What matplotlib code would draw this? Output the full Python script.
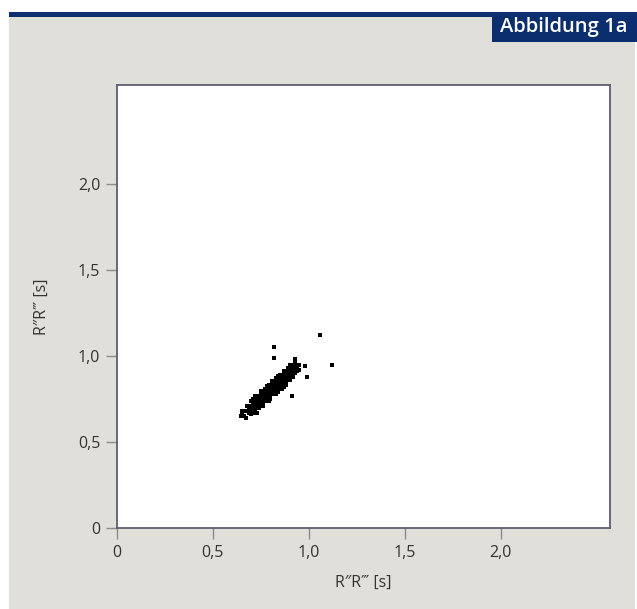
import matplotlib
matplotlib.use('Agg')
import matplotlib.pyplot as plt
from matplotlib.patches import Rectangle

plt.rcParams['font.family'] = ['Open Sans', 'DejaVu Sans']

# RR interval pairs (seconds)
rr_n = [0.66, 0.65, 0.67, 0.68, 0.69, 0.70, 0.70, 0.71, 0.71, 0.72, 0.72, 0.69, 0.70, 0.72,
        0.73, 0.73, 0.74, 0.74, 0.75, 0.75, 0.75, 0.76, 0.76, 0.76, 0.77, 0.77, 0.77,
        0.78, 0.78, 0.78, 0.79, 0.79, 0.79, 0.80, 0.80, 0.80, 0.81, 0.81, 0.81,
        0.82, 0.82, 0.82, 0.83, 0.83, 0.83, 0.84, 0.84, 0.84, 0.85, 0.85, 0.85,
        0.86, 0.86, 0.86, 0.87, 0.87, 0.87, 0.88, 0.88, 0.88, 0.89, 0.89, 0.89,
        0.90, 0.90, 0.90, 0.91, 0.91, 0.92, 0.92, 0.93, 0.93, 0.94, 0.95,
        0.74, 0.78, 0.82, 0.86, 0.79, 0.83, 0.87, 0.91, 0.765, 0.775, 0.785, 0.795,
        0.805, 0.815, 0.825, 0.835, 0.845, 0.855, 0.865, 0.875, 0.885, 0.895, 0.905,
        0.915, 0.925, 0.935, 0.715, 0.725, 0.735, 0.745, 0.755, 0.80, 0.84, 0.88,
        0.72, 0.76, 0.90, 0.93, 0.68, 0.71, 0.94, 0.92, 0.77, 0.81, 0.85, 0.89,
        0.67, 0.70, 0.73, 0.75, 0.79, 0.83, 0.87, 0.91, 0.93, 0.95,
        0.71, 0.73, 0.75, 0.77, 0.79, 0.81, 0.83, 0.85, 0.87, 0.89, 0.91,
        0.74, 0.76, 0.78, 0.80, 0.82, 0.84, 0.86, 0.88, 0.90, 0.92,
        0.72, 0.75, 0.78, 0.81, 0.84, 0.87, 0.90, 0.76, 0.80, 0.84, 0.88, 0.73, 0.86,
        1.06, 0.82, 0.82, 1.12, 0.93, 0.98, 0.99, 0.91, 0.65, 0.645, 0.67, 0.69]
rr_n1 = [0.65, 0.66, 0.64, 0.68, 0.67, 0.70, 0.68, 0.72, 0.69, 0.71, 0.73, 0.71, 0.74, 0.69,
         0.72, 0.75, 0.73, 0.71, 0.74, 0.76, 0.72, 0.75, 0.77, 0.73, 0.76, 0.78, 0.74,
         0.77, 0.79, 0.75, 0.78, 0.80, 0.76, 0.79, 0.81, 0.77, 0.80, 0.82, 0.78,
         0.81, 0.83, 0.79, 0.82, 0.84, 0.80, 0.83, 0.85, 0.81, 0.84, 0.86, 0.82,
         0.85, 0.87, 0.83, 0.86, 0.88, 0.84, 0.87, 0.89, 0.85, 0.88, 0.90, 0.86,
         0.89, 0.91, 0.87, 0.90, 0.92, 0.91, 0.93, 0.92, 0.94, 0.93, 0.95,
         0.77, 0.81, 0.85, 0.89, 0.74, 0.78, 0.82, 0.88, 0.78, 0.76, 0.80, 0.78,
         0.82, 0.80, 0.84, 0.82, 0.86, 0.84, 0.88, 0.86, 0.90, 0.88, 0.92,
         0.90, 0.94, 0.92, 0.74, 0.70, 0.76, 0.72, 0.78, 0.83, 0.87, 0.91,
         0.75, 0.79, 0.93, 0.96, 0.71, 0.67, 0.91, 0.89, 0.80, 0.84, 0.88, 0.92,
         0.68, 0.66, 0.70, 0.78, 0.82, 0.86, 0.90, 0.93, 0.90, 0.92,
         0.75, 0.77, 0.79, 0.81, 0.83, 0.85, 0.87, 0.89, 0.91, 0.93, 0.95,
         0.70, 0.72, 0.74, 0.76, 0.78, 0.80, 0.82, 0.84, 0.86, 0.88,
         0.765, 0.795, 0.825, 0.855, 0.885, 0.915, 0.945, 0.71, 0.75, 0.79, 0.83, 0.67, 0.81,
         1.12, 1.05, 0.99, 0.95, 0.98, 0.94, 0.88, 0.77, 0.68, 0.65, 0.64, 0.70]

ticks = [0, 0.5, 1.0, 1.5, 2.0]
tick_labels = ['0', '0,5', '1,0', '1,5', '2,0']

fig = plt.figure(figsize=(6.37, 6.09), dpi=100)
fig.patch.set_facecolor('white')

# grey panel, navy rule and the figure tag
fig.add_artist(Rectangle((9 / 637, 0), 626 / 637, 597 / 609, transform=fig.transFigure,
                         facecolor='#e0dfd9', edgecolor='none', zorder=-3))
fig.add_artist(Rectangle((9 / 637, 592 / 609), 628 / 637, 5 / 609, transform=fig.transFigure,
                         facecolor='#0b2f6e', edgecolor='none', zorder=-2))
fig.add_artist(Rectangle((492 / 637, 567 / 609), 145 / 637, 30 / 609, transform=fig.transFigure,
                         facecolor='#0b2f6e', edgecolor='none', zorder=-1))
fig.text(564 / 637, 582 / 609, 'Abbildung 1a', color='white', fontsize=14.5,
         fontweight='semibold', ha='center', va='center')

ax = fig.add_axes([117 / 637, 81 / 609, 493 / 637, 443 / 609])
ax.set_zorder(1)
ax.set_facecolor('white')
ax.scatter(rr_n, rr_n1, s=7, marker='s', color='black', linewidths=0)

ax.set_xlim(0, 2.57)
ax.set_ylim(0, 2.575)
ax.set_xticks(ticks)
ax.set_xticklabels(tick_labels)
ax.set_yticks(ticks)
ax.set_yticklabels(tick_labels)
ax.tick_params(direction='out', length=8, width=1, color='#8a8a8a',
               labelsize=11.5, labelcolor='#333333', pad=4)

for s in ax.spines.values():
    s.set_color('#5f5e70')
    s.set_linewidth(1.3)

ax.set_xlabel('R\u2033R\u2034 [s]', fontsize=11.5, color='#333333', labelpad=10)
ax.set_ylabel('R\u2033R\u2034 [s]', fontsize=11.5, color='#333333', labelpad=20)

fig.savefig('out.png', dpi=100, facecolor=fig.get_facecolor())
